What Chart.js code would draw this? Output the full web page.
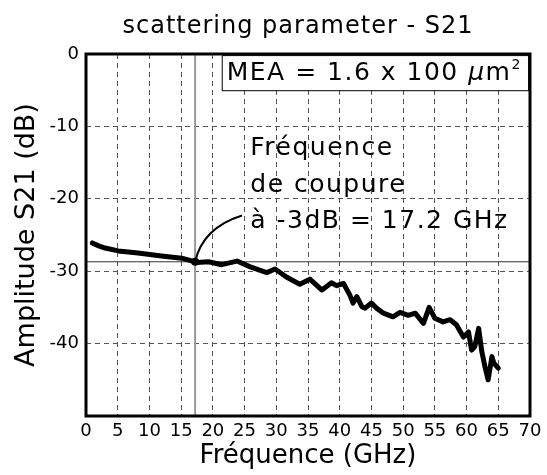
<!DOCTYPE html>
<html>
<head>
<meta charset="utf-8">
<script src="https://cdn.jsdelivr.net/npm/chart.js@4.4.1/dist/chart.umd.min.js"></script>
<style>
  html, body { margin: 0; padding: 0; background: #fff; }
  #wrap { width: 547px; height: 475px; }
</style>
</head>
<body>
<div id="wrap"><canvas id="c" width="547" height="475"></canvas></div>
<script>
// ---- data ----
const freqGHz = [1.0, 2.0, 3.0, 5.1, 8.2, 11.9, 15.1, 17.2, 17.5, 19.3, 21.4, 23.8, 25.9, 28.5, 29.8, 31.6, 33.7, 35.3, 37.2, 38.7, 39.5, 40.6, 41.6, 42.1, 42.7, 43.5, 44.0, 45.0, 45.8, 46.9, 48.4, 49.5, 50.8, 51.9, 53.2, 54.1, 55.0, 56.3, 57.4, 58.4, 59.5, 60.3, 60.8, 61.3, 61.9, 62.4, 62.9, 63.4, 64.0, 64.3, 65.0];
const s21dB = [-26.1, -26.5, -26.8, -27.2, -27.5, -27.9, -28.2, -28.7, -28.8, -28.7, -29.1, -28.6, -29.4, -30.2, -29.7, -30.8, -31.8, -31.1, -32.6, -31.6, -32.0, -31.7, -33.3, -34.4, -33.5, -34.9, -35.1, -34.4, -35.1, -35.8, -36.3, -35.7, -36.1, -35.8, -37.2, -35.0, -36.5, -37.0, -36.7, -37.4, -39.1, -38.4, -40.9, -40.4, -37.9, -41.1, -43.2, -45.0, -41.8, -42.7, -43.4];
const cutoffGHz = 17.2;
const cutoffLevel = -28.7;
const xTicks = [0, 5, 10, 15, 20, 25, 30, 35, 40, 45, 50, 55, 60, 65, 70];
const yTicks = [0, -10, -20, -30, -40];
const titleText = 'scattering parameter - S21';
const xTitle = 'Fréquence (GHz)';
const yTitle = 'Amplitude S21 (dB)';
const noteLines = ['Fréquence', 'de coupure', 'à -3dB = 17.2 GHz'];

const FONT = "'DejaVu Sans', sans-serif";

const curve = freqGHz.map((f, i) => ({ x: f, y: s21dB[i] }));

const decor = {
  id: 'decor',
  afterDatasetsDraw(chart) {
    const { ctx, chartArea: a, scales: { x, y } } = chart;
    ctx.save();
    // frame
    ctx.strokeStyle = '#000';
    ctx.lineWidth = 3;
    ctx.strokeRect(a.left, a.top, a.right - a.left, a.bottom - a.top);

    // title
    ctx.fillStyle = '#000';
    ctx.letterSpacing = '1px';
    ctx.font = '24px ' + FONT;
    ctx.textAlign = 'center';
    ctx.textBaseline = 'middle';
    ctx.fillText(titleText, 298, 27);

    // MEA box
    const bx0 = x.getPixelForValue(21.4), bx1 = x.getPixelForValue(69.7);
    const by0 = y.getPixelForValue(-0.15), by1 = y.getPixelForValue(-5.0);
    ctx.fillStyle = '#fff';
    ctx.fillRect(bx0, by0, bx1 - bx0, by1 - by0);
    ctx.strokeStyle = '#000';
    ctx.lineWidth = 1;
    ctx.strokeRect(bx0 + 0.5, by0 + 0.5, bx1 - bx0, by1 - by0);
    ctx.fillStyle = '#000';
    ctx.textAlign = 'left';
    ctx.textBaseline = 'middle';
    ctx.letterSpacing = '1.5px';
    let tx = bx0 + 5;
    const ty = (by0 + by1) / 2 + 1;
    ctx.font = '25px ' + FONT;
    const s1 = 'MEA = 1.6 x 100 ';
    ctx.fillText(s1, tx, ty);
    tx += ctx.measureText(s1).width;
    ctx.font = 'italic 25px ' + FONT;
    ctx.fillText('\u03BC', tx, ty);
    tx += ctx.measureText('\u03BC').width;
    ctx.font = '25px ' + FONT;
    ctx.fillText('m', tx, ty);
    tx += ctx.measureText('m').width;
    ctx.font = '14px ' + FONT;
    ctx.fillText('2', tx, ty - 8);

    // annotation text
    ctx.font = '25px ' + FONT;
    const nx = x.getPixelForValue(25.9);
    const ny = [-13.0, -18.2, -23.2];
    noteLines.forEach((t, i) => ctx.fillText(t, nx, y.getPixelForValue(ny[i])));
    ctx.letterSpacing = '0px';

    // arrow curve
    ctx.strokeStyle = '#000';
    ctx.lineWidth = 2;
    ctx.beginPath();
    ctx.moveTo(x.getPixelForValue(cutoffGHz), y.getPixelForValue(cutoffLevel));
    ctx.quadraticCurveTo(x.getPixelForValue(18.4), y.getPixelForValue(-24.0),
                         x.getPixelForValue(24.6), y.getPixelForValue(-22.3));
    ctx.stroke();
    ctx.fillStyle = '#000';
    ctx.beginPath();
    ctx.arc(x.getPixelForValue(cutoffGHz), y.getPixelForValue(cutoffLevel), 4, 0, Math.PI * 2);
    ctx.fill();
    ctx.restore();
  }
};

new Chart(document.getElementById('c'), {
  type: 'line',
  data: {
    datasets: [
      { data: curve, borderColor: '#000', borderWidth: 5, pointRadius: 0, tension: 0, borderJoinStyle: 'round', borderCapStyle: 'round' },
      { data: [{ x: 0, y: cutoffLevel }, { x: 70, y: cutoffLevel }], borderColor: '#333', borderWidth: 1, pointRadius: 0 },
      { data: [{ x: cutoffGHz, y: 0 }, { x: cutoffGHz, y: -50 }], borderColor: '#999', borderWidth: 2, pointRadius: 0 }
    ]
  },
  options: {
    responsive: false,
    animation: false,
    events: [],
    layout: { padding: { top: 54, right: 17, left: 0, bottom: 0 } },
    plugins: { legend: { display: false }, tooltip: { enabled: false }, title: { display: false } },
    scales: {
      x: {
        type: 'linear', min: 0, max: 70,
        afterBuildTicks: s => { s.ticks = xTicks.map(v => ({ value: v })); },
        afterFit: s => { s.height = 59; },
        ticks: { autoSkip: false, maxRotation: 0, padding: 5, color: '#000', font: { family: FONT, size: 18 } },
        grid: { color: '#555', lineWidth: 1, drawTicks: false },
        border: { display: false, dash: [5, 4] },
        title: { display: true, text: xTitle, color: '#000', font: { family: FONT, size: 26 }, padding: { top: 0, bottom: 3 } }
      },
      y: {
        type: 'linear', min: -50, max: 0,
        afterBuildTicks: s => { s.ticks = yTicks.map(v => ({ value: v })); },
        afterFit: s => { s.width = 86; },
        ticks: { padding: 7, color: '#000', font: { family: FONT, size: 18 } },
        grid: { color: '#555', lineWidth: 1, drawTicks: false },
        border: { display: false, dash: [5, 4] },
        title: { display: true, text: yTitle, color: '#000', font: { family: FONT, size: 27 }, padding: { top: 11, bottom: 0 } }
      }
    }
  },
  plugins: [decor]
});
</script>
</body>
</html>
